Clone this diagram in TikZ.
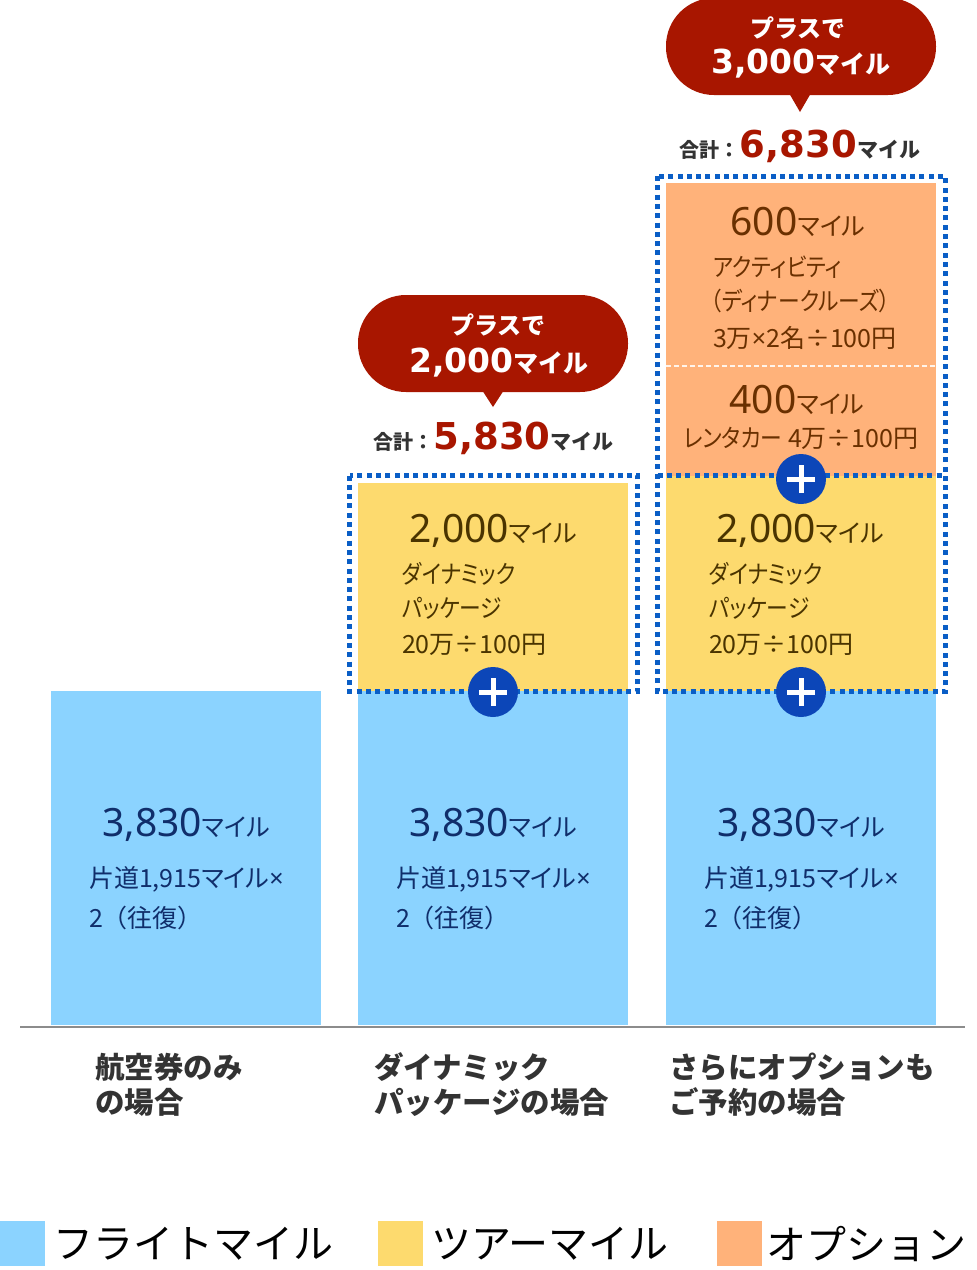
\documentclass[tikz,border=0pt]{standalone}
\usepackage{fontspec}
\setmainfont{Noto Sans CJK JP}
\newfontfamily\jpp{Noto Sans CJK JP}[RawFeature=+palt]
\newfontfamily\dvb{DejaVu Sans}
\newfontfamily\nsans{Noto Sans}
\definecolor{flight}{RGB}{139,211,255}
\definecolor{tour}{RGB}{253,218,110}
\definecolor{opt}{RGB}{255,178,122}
\definecolor{calred}{RGB}{168,22,0}
\definecolor{plusblue}{RGB}{12,70,184}
\definecolor{dotblue}{RGB}{10,94,198}
\definecolor{navytxt}{RGB}{16,46,107}
\definecolor{browny}{RGB}{74,52,0}
\definecolor{browno}{RGB}{106,48,0}
\definecolor{lbltxt}{RGB}{51,51,51}
\newcommand{\knarrow}[1]{\scalebox{0.87}[1]{#1}}
\newcommand{\lsym}[1]{{\nsans #1}}
\newcommand{\bignumtxt}[1]{{\nsans\fontsize{39}{39}\selectfont #1}{\jpp\fontsize{25}{25}\selectfont マイル}}
\newcommand{\calnumtxt}[1]{{\dvb\bfseries\fontsize{33}{33}\selectfont #1}{\bfseries\fontsize{25}{25}\selectfont マイル}}
\newcommand{\totaltxt}[1]{{\bfseries\fontsize{20}{20}\selectfont\color{lbltxt}合計：}{\dvb\bfseries\fontsize{37}{37}\selectfont\color{calred}#1}{\bfseries\fontsize{21}{21}\selectfont\color{lbltxt}マイル}}
\begin{document}
\begin{tikzpicture}[x=1pt,y=-1pt,
  every node/.style={inner sep=0pt, outer sep=0pt},
  dotbox/.style={draw=dotblue, line width=5pt, dash pattern=on 5pt off 4.3pt},
  plusc/.style={circle, fill=plusblue, minimum size=50pt},
  pluscross/.style={draw=white, line width=5pt},
  bartxt/.style={font=\jpp\fontsize{25}{25}\selectfont},
  callout/.style={fill=calred},
  cattxt/.style={anchor=base west, text=lbltxt, font=\bfseries\fontsize{29.5}{29.5}\selectfont},
  legtxt/.style={anchor=west, text=black, font=\fontsize{40}{40}\selectfont}
]
\useasboundingbox (0,0) rectangle (977,1270);
\fill[white] (0,0) rectangle (977,1270);

% bars
\fill[flight] (51,691) rectangle (321,1025);
\fill[flight] (358,691) rectangle (628,1025);
\fill[flight] (666,691) rectangle (936,1025);
\fill[tour] (358,483) rectangle (628,691);
\fill[tour] (666,476) rectangle (936,691);
\fill[opt] (666,183) rectangle (936,476);
\draw[white!85!opt, line width=1.5pt, dash pattern=on 5pt off 3pt] (666,366) -- (936,366);

% baseline
\draw[black!45, line width=2pt] (20,1027) -- (965,1027);

% dotted boxes
\draw[dotbox] (349.5,475.5) rectangle (637.5,691.5);
\draw[dotbox] (657.5,176) rectangle (945,691.5);
\draw[dotbox] (657.5,475) -- (945,475);

% plus circles
\node[plusc] (p1) at (493,692) {};
\node[plusc] (p2) at (801,692) {};
\node[plusc] (p3) at (801,479) {};
\foreach \p in {p1,p2,p3} {
  \draw[pluscross] ([xshift=-14pt]\p.center) -- ([xshift=14pt]\p.center);
  \draw[pluscross] ([yshift=-14pt]\p.center) -- ([yshift=14pt]\p.center);
}

% callouts
\fill[callout, rounded corners=48pt] (358,295) rectangle (628,392);
\fill[callout] (482,390) -- (493,407) -- (504,390) -- cycle;
\fill[callout, rounded corners=48pt] (666,-2) rectangle (936,95);
\fill[callout] (789,93) -- (800,112) -- (811,93) -- cycle;
\node[anchor=base, text=white, font=\bfseries\fontsize{24}{24}\selectfont] (c1a) at (498,334) {プラスで};
\node[anchor=base, text=white] (c1b) at (499,372) {\calnumtxt{2,000}};
\node[anchor=base, text=white, font=\bfseries\fontsize{24}{24}\selectfont] (c2a) at (798,37) {プラスで};
\node[anchor=base, text=white] (c2b) at (801,73) {\calnumtxt{3,000}};

% totals
\node[anchor=base] (t2) at (493.5,449) {\totaltxt{5,830}};
\node[anchor=base] (t3) at (800,157) {\totaltxt{6,830}};

% flight texts
\node[anchor=base, text=navytxt] (b1n) at (186,836) {\bignumtxt{3,830}};
\node[anchor=base west, text=navytxt, bartxt] (b1a) at (89,887) {片道1,915マイル\lsym{×}};
\node[anchor=base west, text=navytxt, bartxt] (b1b) at (89,927) {2{\rmfamily （往復）}};
\node[anchor=base, text=navytxt] (b2n) at (493,836) {\bignumtxt{3,830}};
\node[anchor=base west, text=navytxt, bartxt] (b2a) at (396,887) {片道1,915マイル\lsym{×}};
\node[anchor=base west, text=navytxt, bartxt] (b2b) at (396,927) {2{\rmfamily （往復）}};
\node[anchor=base, text=navytxt] (b3n) at (801,836) {\bignumtxt{3,830}};
\node[anchor=base west, text=navytxt, bartxt] (b3a) at (704,887) {片道1,915マイル\lsym{×}};
\node[anchor=base west, text=navytxt, bartxt] (b3b) at (704,927) {2{\rmfamily （往復）}};

% tour texts
\node[anchor=base, text=browny] (y2n) at (493,542) {\bignumtxt{2,000}};
\node[anchor=base west, text=browny, bartxt] (y2a) at (402,583) {\knarrow{ダイナミック}};
\node[anchor=base west, text=browny, bartxt] (y2b) at (402,617) {\knarrow{パッケージ}};
\node[anchor=base west, text=browny, bartxt] (y2c) at (402,653) {20万÷100円};
\node[anchor=base, text=browny] (y3n) at (800,542) {\bignumtxt{2,000}};
\node[anchor=base west, text=browny, bartxt] (y3a) at (709,583) {\knarrow{ダイナミック}};
\node[anchor=base west, text=browny, bartxt] (y3b) at (709,617) {\knarrow{パッケージ}};
\node[anchor=base west, text=browny, bartxt] (y3c) at (709,653) {20万÷100円};

% option texts
\node[anchor=base, text=browno] (o1n) at (798,235) {\bignumtxt{600}};
\node[anchor=base west, text=browno, bartxt] (o1a) at (713,276) {\knarrow{アクティビティ}};
\node[anchor=base west, text=browno, bartxt] (o1b) at (711,310) {\knarrow{（ディナークルーズ）}};
\node[anchor=base west, text=browno, bartxt] (o1c) at (713,347) {3万\lsym{×}2名÷100円};
\node[anchor=base, text=browno] (o2n) at (797,413) {\bignumtxt{400}};
\node[anchor=base, text=browno, bartxt] (o2a) at (801,447) {\knarrow{レンタカー} 4万÷100円};

% category labels
\node[cattxt] (k1a) at (95,1078) {航空券のみ};
\node[cattxt] (k1b) at (95,1113) {の場合};
\node[cattxt] (k2a) at (374,1078) {ダイナミック};
\node[cattxt] (k2b) at (374,1113) {パッケージの場合};
\node[cattxt] (k3a) at (669,1078) {さらにオプションも};
\node[cattxt] (k3b) at (669,1113) {ご予約の場合};

% legend
\fill[flight] (0,1221) rectangle (45,1266);
\fill[tour] (378,1221) rectangle (423,1266);
\fill[opt] (717,1221) rectangle (762,1266);
\node[legtxt] (l1) at (53,1244) {フライトマイル};
\node[legtxt] (l2) at (431,1244) {ツアーマイル};
\node[legtxt] (l3) at (766,1244) {オプション};
\end{tikzpicture}
\end{document}
